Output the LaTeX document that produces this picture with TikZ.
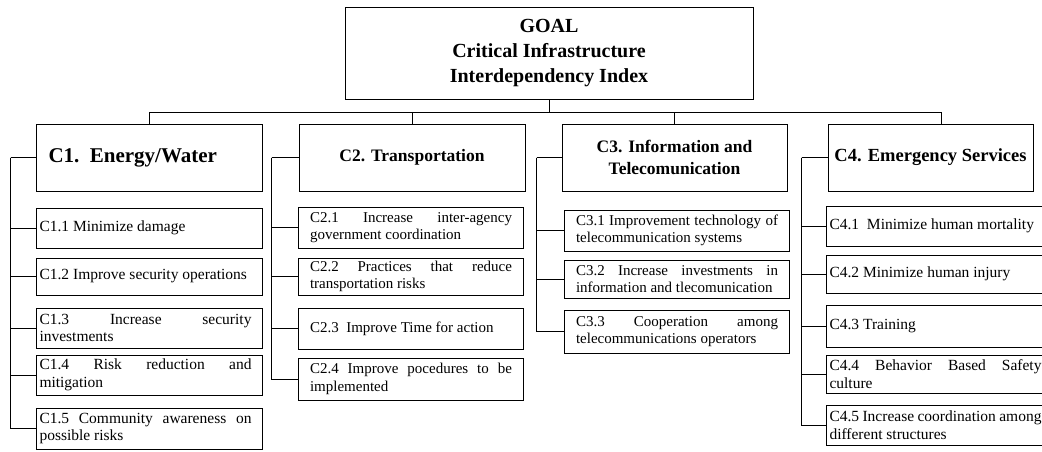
\documentclass[tikz,border=0pt]{standalone}
\usepackage{fontspec}
\setmainfont{Liberation Serif}

\begin{document}
\begin{tikzpicture}[x=1pt,y=-1pt,
  box/.style={draw, line width=1pt},
  crit/.style={box, minimum height=67, align=center, inner sep=2, font=\fontsize{17.5}{22}\selectfont\bfseries},
  sub/.style={box, anchor=west, minimum height=40, text width=220, inner xsep=3, inner ysep=0, align=justify,
    execute at begin node={\rightskip=8pt}, font=\fontsize{15.5}{17.5}\selectfont},
  subsmall/.style={sub, text width=202, inner xsep=11.5, execute at begin node={\rightskip=0pt}, font=\fontsize{15}{17.5}\selectfont},
  link/.style={line width=1pt}]
\clip (0,0) rectangle (1042,451);

% Goal
\node [crit, minimum width=408, minimum height=92, font=\fontsize{20}{25}\selectfont\bfseries] (goal) at (549,53) {GOAL\\Critical Infrastructure\\Interdependency Index};

% Criteria
\node [crit, text width=201, inner xsep=12.5, align=left, font=\fontsize{21}{23}\selectfont\bfseries] (c1) at (149,157.5) {C1. Energy/Water};
\node [crit, minimum width=226] (c2) at (412,157.5) {C2. Transportation};
\node [crit, minimum width=225] (c3) at (674.5,157.5) {C3. Information and\\Telecomunication};
\node [crit, minimum width=205, font=\fontsize{18.5}{22}\selectfont\bfseries] (c4) at (930.5,157.5) {C4. Emergency Services};

% Sub-criteria C1
\node [sub] (c11) at (36,228) {C1.1 Minimize damage};
\node [sub, minimum height=37] (c12) at (36,276.5) {C1.2 Improve security operations};
\node [sub] (c13) at (36,328) {C1.3 Increase security\linebreak investments};
\node [sub] (c14) at (36,375) {C1.4 Risk reduction and\linebreak mitigation};
\node [sub, minimum height=41] (c15) at (36,428.5) {C1.5 Community awareness on\linebreak possible risks};

% Sub-criteria C2
\node [subsmall, minimum height=41] (c21) at (298,227.5) {C2.1 Increase inter-agency\linebreak government coordination};
\node [subsmall, minimum height=37] (c22) at (298,276.5) {C2.2 Practices that reduce\linebreak transportation risks};
\node [subsmall, minimum height=41] (c23) at (298,328.5) {C2.3\enspace Improve Time for action};
\node [subsmall, minimum height=42] (c24) at (298,379) {C2.4 Improve pocedures to be\linebreak implemented};

% Sub-criteria C3
\node [subsmall, minimum height=41] (c31) at (564,230.5) {C3.1 Improvement technology of\linebreak telecommunication systems};
\node [subsmall, minimum height=38] (c32) at (564,279) {C3.2 Increase investments in\linebreak information and tlecomunication};
\node [subsmall, minimum height=43] (c33) at (564,331.5) {C3.3 Cooperation among\linebreak telecommunications operators};

% Sub-criteria C4
\node [sub] (c41) at (826,226) {C4.1\enspace Minimize human mortality};
\node [sub, minimum height=38] (c42) at (826,274) {C4.2 Minimize human injury};
\node [sub, minimum height=42] (c43) at (826,326) {C4.3 Training};
\node [sub, minimum height=38] (c44) at (826,374) {C4.4 Behavior Based Safety\linebreak culture};
\node [sub] (c45) at (826,425) {C4.5 Increase coordination among\linebreak different structures};

% Goal to criteria
\draw [link] (goal.south) -- ++(0,13) coordinate (bar);
\draw [link] (bar) -| (c1.north);
\draw [link] (bar) -| (c2.north);
\draw [link] (bar) -| (c3.north);
\draw [link] (bar) -| ([xshift=11]c4.north);

% Criteria to sub-criteria
\draw [link] (c1.west) -- ++(-25,0) coordinate (s1);
\foreach \n in {11,...,15} \draw [link] (s1) |- (c\n.west);
\draw [link] (c2.west) -- ++(-27,0) coordinate (s2);
\foreach \n in {21,...,24} \draw [link] (s2) |- (c\n.west);
\draw [link] (c3.west) -- ++(-25,0) coordinate (s3);
\foreach \n in {31,...,33} \draw [link] (s3) |- (c\n.west);
\draw [link] (c4.west) -- ++(-26,0) coordinate (s4);
\foreach \n in {41,...,45} \draw [link] (s4) |- (c\n.west);
\end{tikzpicture}
\end{document}
